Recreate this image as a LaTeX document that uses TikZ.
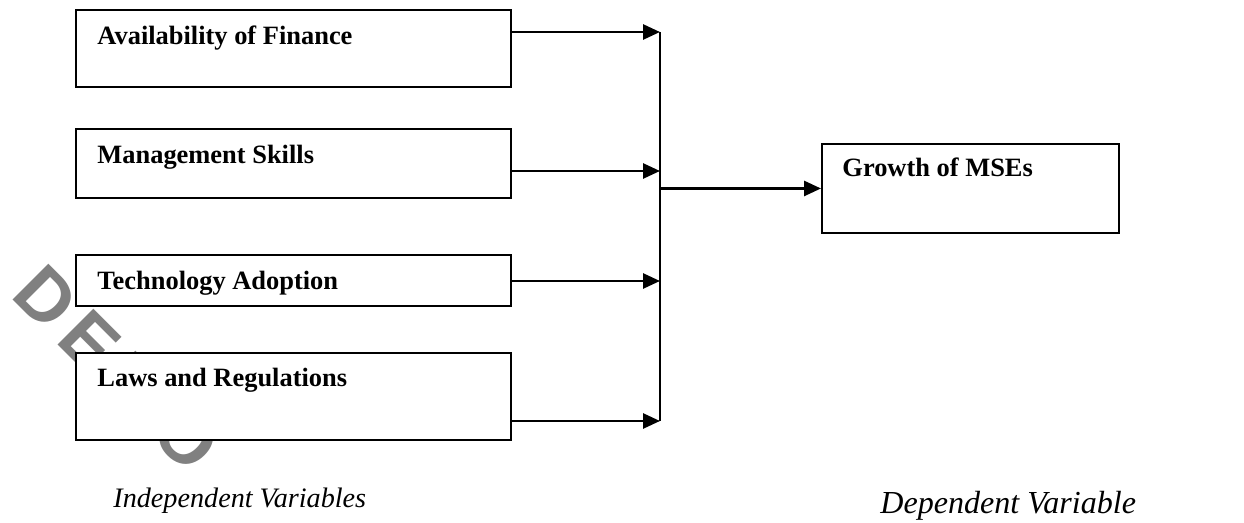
\documentclass[tikz,border=0pt]{standalone}
\usepackage{fontspec}
\setmainfont{Liberation Serif}
\newfontfamily\markfont{Liberation Sans}
\usetikzlibrary{arrows.meta}
\def\pxu{0.4615pt}
\tikzset{
  varbox/.style 2 args={draw, line width=0.9pt, fill=white, rectangle,
    inner sep=0pt, anchor=north west, minimum width=#1*\pxu, minimum height=#2*\pxu},
  boxlabel/.style={anchor=base west, inner sep=0pt,
    font=\fontsize{12.2}{14}\selectfont\bfseries},
  caption/.style={anchor=base west, inner sep=0pt},
  arr/.style={line width=1.2pt, -{Triangle[length=7.8pt, width=6.9pt]}},
  bus/.style={line width=0.9pt},
  stamp/.style={anchor=base west, inner sep=0pt, rotate=-45,
    text={rgb,255:red,128;green,128;blue,128},
    font=\markfont\fontsize{34}{40}\selectfont\bfseries}
}
\newcommand\stampgap{\hspace{5pt}}
\begin{document}
\begin{tikzpicture}[x=0.4615pt, y=-0.4615pt]
\useasboundingbox (0,0) rectangle (1244,523);

% background stamp
\node[stamp] (stamp) at (9,296) {D\stampgap E\stampgap M\stampgap O};

% independent variables
\node[varbox={435}{77}] (b1) at (75,9) {};
\node[varbox={435}{69}] (b2) at (75,128) {};
\node[varbox={435}{51}] (b3) at (75,254) {};
\node[varbox={435}{87}] (b4) at (75,352) {};
\node[boxlabel] (t1) at (97,45) {Availability of Finance};
\node[boxlabel] (t2) at (97,164) {Management Skills};
\node[boxlabel] (t3) at (97,290) {Technology Adoption};
\node[boxlabel] (t4) at (97,387) {Laws and Regulations};

% dependent variable
\node[varbox={297}{89}] (g) at (821,143) {};
\node[boxlabel] (tg) at (842,177) {Growth of MSEs};

% collecting bus
\coordinate (j1) at (660,32);
\coordinate (j2) at (660,171);
\coordinate (j3) at (660,281);
\coordinate (j4) at (660,421);
\coordinate (jo) at (g.west -| j1);

\draw[arr] (b1.east |- j1) -- (j1);
\draw[arr] (b2.east |- j2) -- (j2);
\draw[arr] (b3.east |- j3) -- (j3);
\draw[arr] (b4.east |- j4) -- (j4);
\draw[bus] (j1) -- (j4);
\draw[arr] (jo) -- (g.west);

% captions
\node[caption, font=\fontsize{13}{15}\selectfont\itshape] (iv) at (113,507) {Independent Variables};
\node[caption, font=\fontsize{14.8}{17}\selectfont\itshape] (dv) at (880,513) {Dependent Variable};
\end{tikzpicture}
\end{document}
